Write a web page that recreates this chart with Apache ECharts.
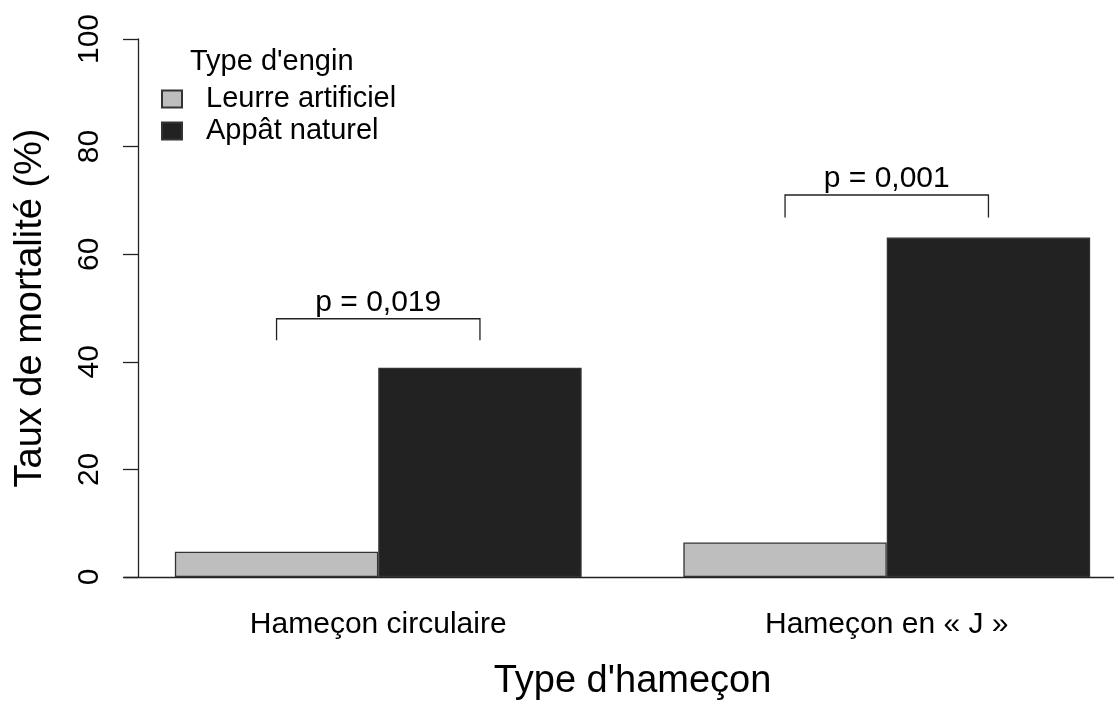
<!DOCTYPE html>
<html>
<head>
<meta charset="utf-8">
<script src="https://cdn.jsdelivr.net/npm/echarts@6/dist/echarts.min.js"></script>
<style>
  html, body { margin: 0; padding: 0; background: #fff; overflow: hidden; }
  /* wider than the window: the right end of the plot region falls off the page, as in the original */
  #chart { width: 1150px; height: 706px; }
</style>
</head>
<body>
<div id="chart"></div>
<script>
// data
const categories = ['Hameçon circulaire', 'Hameçon en « J »']
const leurreValues = [4.7, 6.4]
const appatValues = [38.9, 63.1]
const seriesNames = ['Leurre artificiel', 'Appât naturel']
const yTicks = [0, 20, 40, 60, 80, 100]
// significance brackets (top and bottom of the bracket, in %)
const bracketTop = [48, 71]
const bracketBottom = [44, 66.8]
const pLabels = ['p = 0,019', 'p = 0,001']

const FONT = '"Liberation Sans", Arial, sans-serif'
const LINE = '#222'

const chart = echarts.init(document.getElementById('chart'))

const option = {
  backgroundColor: '#fff',
  animation: false,
  textStyle: { fontFamily: FONT, color: '#000' },
  title: {
    text: "Type d'engin",
    left: 190,
    top: 47,
    padding: 0,
    textStyle: { fontFamily: FONT, fontSize: 29, fontWeight: 'normal', color: '#000' }
  },
  legend: {
    orient: 'vertical',
    left: 161,
    top: 83,
    padding: 0,
    itemGap: 0,
    itemWidth: 20,
    itemHeight: 17,
    icon: 'rect',
    data: seriesNames,
    textStyle: {
      fontFamily: FONT,
      fontSize: 29,
      color: '#000',
      lineHeight: 28,
      padding: [4, 0, 0, 19]
    }
  },
  grid: { left: 124, top: 39, width: 1017, height: 541 },
  xAxis: {
    type: 'category',
    data: categories,
    axisLine: { show: true, lineStyle: { color: LINE, width: 1.3 } },
    axisTick: { show: false },
    axisLabel: { fontFamily: FONT, fontSize: 30, color: '#000', margin: 33 },
    name: "Type d'hameçon",
    nameLocation: 'middle',
    nameGap: 86,
    nameTextStyle: { fontFamily: FONT, fontSize: 38, color: '#000' }
  },
  yAxis: {
    type: 'value',
    min: 0,
    max: 100,
    interval: 20,
    offset: -14,
    axisLine: { show: true, lineStyle: { color: LINE, width: 1.3 } },
    axisTick: { show: true, length: 15, lineStyle: { color: LINE, width: 1.3 } },
    splitLine: { show: false },
    axisLabel: {
      fontFamily: FONT,
      fontSize: 30,
      color: '#000',
      rotate: 90,
      margin: 33,
      formatter: v => (yTicks.includes(v) ? String(v) : '')
    },
    name: 'Taux de mortalité (%)',
    nameLocation: 'middle',
    nameGap: 88,
    nameTextStyle: { fontFamily: FONT, fontSize: 38, color: '#000' }
  },
  series: [
    {
      name: seriesNames[0],
      type: 'bar',
      data: leurreValues,
      barGap: '0%',
      barCategoryGap: '20%',
      itemStyle: { color: '#bebebe', borderColor: '#333', borderWidth: 1.3 }
    },
    {
      name: seriesNames[1],
      type: 'bar',
      data: appatValues,
      barGap: '0%',
      barCategoryGap: '20%',
      itemStyle: { color: '#222222', borderColor: '#333', borderWidth: 1.3 }
    },
    {
      type: 'custom',
      silent: true,
      data: bracketTop.map((t, i) => [i, t, bracketBottom[i]]),
      renderItem: (params, api) => {
        const cat = api.value(0)
        const top = api.coord([cat, api.value(1)])
        const bottom = api.coord([cat, api.value(2)])
        const half = api.size([1, 0])[0] * 0.2
        return {
          type: 'group',
          children: [
            {
              type: 'polyline',
              shape: {
                points: [
                  [top[0] - half, bottom[1]],
                  [top[0] - half, top[1]],
                  [top[0] + half, top[1]],
                  [top[0] + half, bottom[1]]
                ]
              },
              style: { stroke: LINE, lineWidth: 1.3, fill: null }
            },
            {
              type: 'text',
              style: {
                text: pLabels[params.dataIndex],
                x: top[0],
                y: top[1] - 1,
                align: 'center',
                verticalAlign: 'bottom',
                font: '30px ' + FONT,
                fill: '#000'
              }
            }
          ]
        }
      }
    }
  ]
}

chart.setOption(option)
</script>
</body>
</html>
